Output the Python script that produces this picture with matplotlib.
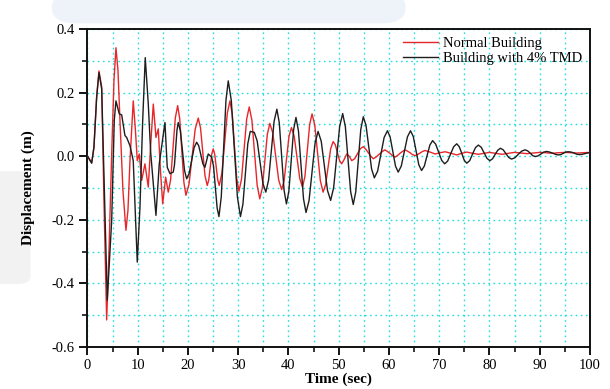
import matplotlib
matplotlib.use("Agg")
import matplotlib.pyplot as plt
from matplotlib.ticker import MultipleLocator, FormatStrFormatter
from matplotlib.patches import FancyBboxPatch

plt.rcParams['font.family'] = ['Liberation Serif', 'DejaVu Serif']
plt.rcParams['axes.unicode_minus'] = False

# Normal building response, (time s, displacement m)
normal_pts = [
    (0, 0.0), (0.84, -0.02), (1.29, 0.03), (1.83, 0.19), (2.29, 0.268), (2.83, 0.218),
    (3.28, -0.14), (3.82, -0.515), (4.28, -0.3), (4.82, 0.008), (5.27, 0.237), (5.67, 0.341),
    (6.07, 0.27), (6.47, 0.112), (7.06, -0.108), (7.66, -0.233), (8.06, -0.17), (8.46, -0.014),
    (9.11, 0.174), (9.55, 0.08), (9.91, -0.014), (10.31, 0.007), (10.79, -0.076), (11.44, -0.024),
    (12.1, -0.097), (12.64, 0.05), (13.1, 0.164), (13.63, 0.059), (14.09, 0.086), (14.53, -0.045),
    (14.97, -0.15), (15.56, -0.066), (16.08, -0.113), (16.55, -0.074), (17.02, 0.023), (17.48, 0.12),
    (17.95, 0.159), (18.36, 0.118), (18.78, 0.018), (19.19, -0.082), (19.6, -0.123), (20.21, -0.088),
    (20.83, -0.002), (21.44, 0.085), (22.05, 0.12), (22.5, 0.089), (22.95, 0.014), (23.39, -0.061),
    (23.84, -0.092), (24.14, -0.075), (24.44, -0.035), (24.73, 0.006), (25.03, 0.023), (25.33, 0.006),
    (25.63, -0.035), (25.93, -0.075), (26.23, -0.092), (26.76, -0.053), (27.3, 0.041), (27.83, 0.135),
    (28.36, 0.174), (28.81, 0.133), (29.26, 0.032), (29.7, -0.069), (30.15, -0.11), (30.66, -0.072),
    (31.18, 0.023), (31.69, 0.117), (32.2, 0.155), (32.73, 0.113), (33.25, 0.011), (33.78, -0.092),
    (34.3, -0.134), (34.8, -0.1), (35.3, -0.016), (35.8, 0.069), (36.3, 0.103), (36.89, 0.073),
    (37.48, -0.001), (38.06, -0.075), (38.65, -0.105), (39.14, -0.077), (39.63, -0.008), (40.11, 0.062),
    (40.6, 0.09), (41.15, 0.063), (41.7, -0.004), (42.25, -0.07), (42.8, -0.097), (43.28, -0.064),
    (43.75, 0.018), (44.23, 0.1), (44.7, 0.133), (45.25, 0.097), (45.8, 0.01), (46.35, -0.077),
    (46.9, -0.113), (47.4, -0.09), (47.9, -0.034), (48.4, 0.023), (48.9, 0.046), (49.33, 0.036),
    (49.75, 0.011), (50.18, -0.014), (50.6, -0.024), (51.1, -0.01), (51.6, 0.007), (52.1, 0.0),
    (52.6, -0.014), (53.18, -0.008), (53.75, 0.008), (54.33, 0.024), (54.9, 0.03), (55.4, 0.022),
    (55.9, 0.011), (56.4, 0.0), (56.9, -0.008), (57.48, -0.002), (58.05, 0.006), (58.63, 0.014),
    (59.2, 0.02), (59.7, 0.015), (60.2, 0.009), (60.7, 0.002), (61.2, -0.003), (61.7, 0.002),
    (62.2, 0.009), (62.7, 0.015), (63.2, 0.02), (63.7, 0.016), (64.2, 0.011), (64.7, 0.005),
    (65.2, 0.002), (65.7, 0.005), (66.2, 0.01), (66.7, 0.015), (67.2, 0.018), (68.2, 0.013),
    (69.2, 0.007), (70.2, 0.011), (71.2, 0.014), (72.4, 0.009), (73.5, 0.004), (74.5, 0.009),
    (75.5, 0.013), (76.7, 0.009), (77.8, 0.006), (78.9, 0.009), (80.0, 0.012), (81.2, 0.009),
    (82.5, 0.006), (83.8, 0.009), (85.0, 0.012), (86.2, 0.01), (87.5, 0.008), (88.8, 0.01),
    (90.0, 0.012), (91.2, 0.011), (92.5, 0.009), (93.8, 0.011), (95.0, 0.012), (96.2, 0.011),
    (97.5, 0.01), (98.8, 0.011), (100, 0.012),
]

# Building with 4% TMD
tmd_pts = [
    (0, 0.0), (0.84, -0.022), (1.29, 0.028), (1.83, 0.185), (2.29, 0.263), (2.83, 0.211),
    (3.94, -0.453), (4.82, -0.202), (5.33, 0.112), (5.67, 0.174), (6.33, 0.133), (6.81, 0.13),
    (7.46, 0.065), (7.8, 0.059), (8.46, 0.033), (9.11, -0.014), (9.91, -0.333), (10.45, -0.16),
    (10.99, 0.112), (11.5, 0.31), (12.1, 0.165), (12.58, 0.012), (13.63, -0.186), (14.29, -0.024),
    (15.42, 0.106), (15.88, -0.035), (16.42, -0.055), (17.07, -0.05), (17.32, -0.027), (17.57, 0.028),
    (17.82, 0.083), (18.07, 0.106), (18.49, 0.08), (18.9, 0.018), (19.32, -0.045), (19.74, -0.071),
    (20.24, -0.054), (20.74, -0.014), (21.23, 0.027), (21.73, 0.044), (22.14, 0.033), (22.56, 0.005),
    (22.97, -0.024), (23.38, -0.035), (24.04, 0.007), (24.72, -0.003), (25.08, -0.03), (25.45, -0.097),
    (25.81, -0.163), (26.17, -0.19), (26.63, -0.128), (27.1, 0.024), (27.56, 0.175), (28.02, 0.237),
    (28.63, 0.175), (29.24, 0.024), (29.84, -0.128), (30.45, -0.19), (30.94, -0.151), (31.43, -0.056),
    (31.91, 0.039), (32.4, 0.078), (33.2, 0.075), (33.78, 0.048), (34.35, -0.019), (34.93, -0.086),
    (35.5, -0.113), (36.05, -0.075), (36.6, 0.018), (37.15, 0.11), (37.7, 0.148), (38.18, 0.105),
    (38.65, -0.001), (39.13, -0.107), (39.6, -0.15), (40.08, -0.111), (40.55, -0.014), (41.03, 0.083),
    (41.5, 0.122), (42.0, 0.079), (42.5, -0.028), (43.0, -0.134), (43.5, -0.177), (44.1, -0.14),
    (44.7, -0.05), (45.3, 0.041), (45.9, 0.078), (46.53, 0.047), (47.15, -0.031), (47.78, -0.108),
    (48.4, -0.139), (49.0, -0.099), (49.6, -0.003), (50.2, 0.094), (50.8, 0.134), (51.33, 0.093),
    (51.85, -0.009), (52.38, -0.111), (52.9, -0.152), (53.4, -0.112), (53.9, -0.014), (54.4, 0.084),
    (54.9, 0.124), (55.45, 0.096), (56.0, 0.028), (56.55, -0.04), (57.1, -0.068), (57.75, -0.047),
    (58.4, 0.006), (59.05, 0.059), (59.7, 0.08), (60.24, 0.061), (60.78, 0.015), (61.31, -0.031),
    (61.85, -0.05), (62.46, -0.031), (63.08, 0.015), (63.69, 0.061), (64.3, 0.08), (64.85, 0.062),
    (65.4, 0.018), (65.95, -0.027), (66.5, -0.045), (67.05, -0.031), (67.6, 0.002), (68.15, 0.035),
    (68.7, 0.049), (69.3, 0.038), (69.9, 0.013), (70.5, -0.013), (71.1, -0.024), (71.7, -0.015),
    (72.3, 0.008), (72.9, 0.03), (73.5, 0.039), (74.0, 0.03), (74.5, 0.009), (75.0, -0.013),
    (75.5, -0.022), (76.08, -0.014), (76.65, 0.007), (77.23, 0.027), (77.8, 0.035), (78.38, 0.028),
    (78.95, 0.011), (79.53, -0.007), (80.1, -0.014), (80.63, -0.008), (81.15, 0.006), (81.68, 0.019),
    (82.2, 0.025), (82.75, 0.02), (83.3, 0.008), (83.85, -0.004), (84.4, -0.009), (85.08, -0.005),
    (85.75, 0.006), (86.43, 0.016), (87.1, 0.02), (87.6, 0.017), (88.1, 0.01), (88.6, 0.002),
    (89.1, -0.001), (89.68, 0.001), (90.25, 0.007), (90.83, 0.013), (91.4, 0.015), (91.98, 0.013),
    (92.55, 0.01), (93.13, 0.006), (93.7, 0.004), (94.2, 0.005), (94.7, 0.009), (95.2, 0.013),
    (95.7, 0.014), (96.28, 0.013), (96.85, 0.01), (97.43, 0.006), (98.0, 0.005), (98.5, 0.006),
    (99.0, 0.008), (99.5, 0.01), (100, 0.011),
]

normal_t, normal_y = zip(*normal_pts)
tmd_t, tmd_y = zip(*tmd_pts)

fig = plt.figure(figsize=(6.1, 3.89), dpi=100)

# faint watermark shapes behind the chart
fig.add_artist(FancyBboxPatch((0.085, 0.94), 0.58, 0.08, boxstyle="round,pad=0,rounding_size=0.04",
                              transform=fig.transFigure, fc='#edf3f9', ec='none', zorder=0))
fig.add_artist(FancyBboxPatch((-0.03, 0.27), 0.08, 0.29, boxstyle="round,pad=0,rounding_size=0.02",
                              transform=fig.transFigure, fc='#f2f2f2', ec='none', zorder=0))

ax = fig.add_axes([0.1434, 0.108, 0.8236, 0.8174])
ax.patch.set_alpha(0)

ax.plot(normal_t, normal_y, color='#e8262a', lw=1.0, label='Normal Building', zorder=3)
ax.plot(tmd_t, tmd_y, color='#1e1e1e', lw=1.0, label='Building with 4% TMD', zorder=4)

ax.set_xlim(0, 100)
ax.set_ylim(-0.6, 0.4)
ax.xaxis.set_major_locator(MultipleLocator(10))
ax.xaxis.set_minor_locator(MultipleLocator(5))
ax.yaxis.set_major_locator(MultipleLocator(0.2))
ax.yaxis.set_minor_locator(MultipleLocator(0.1))
ax.yaxis.set_major_formatter(FormatStrFormatter('%.1f'))

ax.grid(which='both', color='#22dede', linestyle=(0, (1.2, 2.5)), linewidth=1.0, zorder=1)
ax.tick_params(which='major', direction='out', length=6, width=1.3, labelsize=10.5, pad=3)
ax.tick_params(which='minor', direction='out', length=3.5, width=1.1)
for s in ax.spines.values():
    s.set_linewidth(1.4)
    s.set_color('#111111')

ax.set_xlabel('Time (sec)', fontsize=11, fontweight='bold', labelpad=0)
ax.set_ylabel('Displacement (m)', fontsize=11, fontweight='bold', labelpad=12)

ax.legend(loc='upper right', frameon=False, fontsize=10.5, handlelength=2.4, handletextpad=0.3,
          labelspacing=0.1, borderaxespad=0.15)

fig.savefig('out.png', dpi=100)
